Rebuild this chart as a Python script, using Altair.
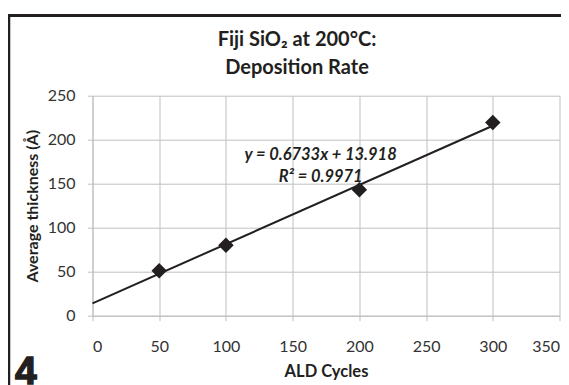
import altair as alt
import pandas as pd

# ---- data ----
cycles = [50, 100, 200, 300]
thickness = [51, 80, 143, 219.5]
x_ticks = [0, 50, 100, 150, 200, 250, 300, 350]
y_ticks = [0, 50, 100, 150, 200, 250]
title_lines = ["Fiji SiO\u2082 at 200\u00b0C:", "Deposition Rate"]
eq_lines = ["y = 0.6733x + 13.918", "R\u00b2 = 0.9971"]
eq_x = [171, 171]
eq_y = [183, 158]
panel_label = ["4"]

INK = "#231f20"
GRID = "#bfbfbf"
LABEL = "#333333"

df = pd.DataFrame({"cycles": cycles, "thickness": thickness})
eq_df = pd.DataFrame({"text": eq_lines, "x": eq_x, "y": eq_y})
lab_df = pd.DataFrame({"text": panel_label})
title_df = pd.DataFrame({"text": title_lines, "row": [0, 1]})
one = pd.DataFrame({"d": [0]})

xscale = alt.Scale(domain=[0, 350], nice=False, zero=False)
yscale = alt.Scale(domain=[0, 250], nice=False, zero=False)

xaxis = alt.Axis(
    title="ALD Cycles", values=x_ticks, grid=True, labelPadding=17.5,
    titleY=61, titleBaseline="alphabetic", titleFontSize=16.5,
)
yaxis = alt.Axis(
    title="Average thickness (\u00c5)", values=y_ticks, grid=True, labelPadding=12.5,
    titleX=-55, titleY=110, titleAngle=270, titleBaseline="alphabetic",
    titleAlign="center", titleFontSize=16,
)

X = alt.X("cycles:Q", scale=xscale, axis=xaxis)
Y = alt.Y("thickness:Q", scale=yscale, axis=yaxis)

trend = (
    alt.Chart(df)
    .transform_regression("cycles", "thickness", extent=[0, 300])
    .mark_line(color=INK, strokeWidth=2)
    .encode(x=X, y=Y)
)

points = (
    alt.Chart(df)
    .mark_point(shape="diamond", filled=True, size=240, color=INK, opacity=1)
    .encode(x=X, y=Y)
)

eq = (
    alt.Chart(eq_df)
    .mark_text(font="Lato", fontSize=16.5, fontWeight="bold", fontStyle="italic",
               color=INK, align="center", baseline="middle")
    .encode(
        x=alt.X("x:Q", scale=xscale, axis=xaxis),
        y=alt.Y("y:Q", scale=yscale, axis=yaxis),
        text="text:N",
    )
)

title1 = (
    alt.Chart(title_df.iloc[[0]])
    .mark_text(font="Lato", fontSize=20, fontWeight="bold", color=INK,
               align="center", baseline="alphabetic")
    .encode(x=alt.value(204.5), y=alt.value(-49.7), text="text:N")
)
title2 = (
    alt.Chart(title_df.iloc[[1]])
    .mark_text(font="Lato", fontSize=20, fontWeight="bold", color=INK,
               align="center", baseline="alphabetic")
    .encode(x=alt.value(204.5), y=alt.value(-21.7), text="text:N")
)

frame_left = alt.Chart(one).mark_rule(color=INK, strokeWidth=3).encode(
    x=alt.value(-83.75), y=alt.value(-81.7), y2=alt.value(320)
)
frame_top = alt.Chart(one).mark_rule(color=INK, strokeWidth=3).encode(
    y=alt.value(-80.2), x=alt.value(-85.25), x2=alt.value(520)
)

label4 = (
    alt.Chart(lab_df)
    .mark_text(font="Liberation Sans", fontSize=39, fontWeight="bold", color=INK,
               stroke=INK, strokeWidth=1.4, align="left", baseline="alphabetic")
    .encode(x=alt.value(-77.5), y=alt.value(288.5), text="text:N")
)

chart = (
    alt.layer(trend, points, eq, title1, title2, frame_left, frame_top, label4)
    .properties(
        width=467,
        height=220,
        autosize="none",
        padding={"left": 84.5, "top": 87.7, "right": 1.0, "bottom": 69.3},
        background="white",
    )
    .configure_view(stroke=None)
    .configure_axis(
        labelFont="Lato", labelFontSize=16, labelColor=LABEL,
        titleFont="Lato", titleFontWeight="bold", titleColor=INK,
        gridColor=GRID, gridWidth=1, domainColor=GRID, domainWidth=1,
        tickColor=GRID, tickSize=5, tickWidth=1,
    )
)

chart.save("out.html", embed_options={"renderer": "svg", "actions": False})
